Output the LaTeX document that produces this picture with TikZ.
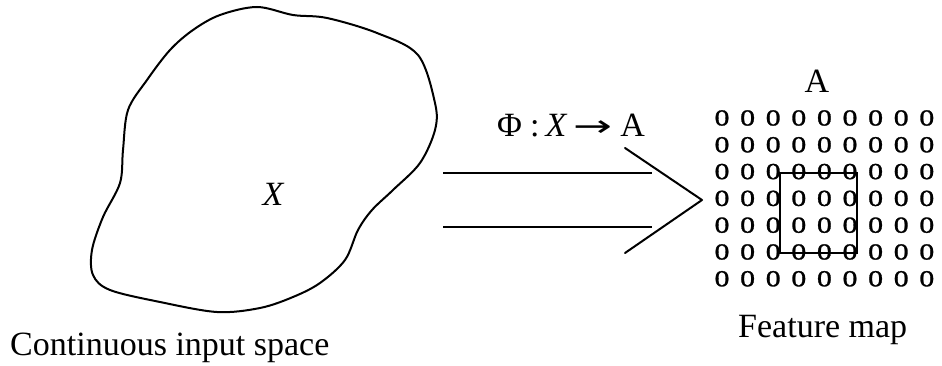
\documentclass[tikz,border=0pt]{standalone}
\usepackage{graphicx}
\usepackage{fontspec}
\setmainfont{Liberation Serif}
\newfontfamily\ofont[FakeStretch=1.3,FakeBold=1.2]{Liberation Serif}
\newfontfamily\arrowfont{DejaVu Sans}
\begin{document}
\begin{tikzpicture}[x=1pt,y=-1pt,
  lbl/.style={inner sep=0pt,font=\fontsize{34}{40}\selectfont},
  neuron/.style={inner sep=0pt,font=\ofont\fontsize{23}{23}\selectfont},
  stroke/.style={line width=2pt,line cap=round,line join=round}]
\useasboundingbox (0,0) rectangle (942,366);
% input space blob
\draw[stroke] plot[smooth cycle,tension=0.55] coordinates{
 (257,7) (293,15) (327,18) (377,33) (418,55) (435,103) (435,130) (420,163)
 (393,190) (372,210) (358,230) (345,260) (320,283) (293,297) (260,308)
 (217,312) (160,302) (110,290) (93,275) (92,250) (103,217) (120,183)
 (123,150) (128,110) (147,80) (170,50) (193,30) (220,15)};
\node[lbl,anchor=base,font=\itshape\fontsize{34}{40}\selectfont] (X) at (273,205) {X};
\node[lbl,anchor=base west] (cis) at (10,355) {Continuous input space};
% mapping arrow
\coordinate (l1a) at (443,173);
\coordinate (l1b) at (652,173);
\coordinate (l2a) at (443,227);
\coordinate (l2b) at (652,227);
\coordinate (ca) at (625,148);
\coordinate (ct) at (702,200);
\coordinate (cb) at (625,253);
\draw[line width=1.4pt] (l1a) -- (l1b);
\draw[line width=2.6pt] (l2a) -- (l2b);
\draw[stroke] (ca) -- (ct) -- (cb);
\node[lbl,anchor=base west] (phi) at (497,137) {Φ\hspace{8pt}:\hspace{6pt}\textit{X}\hspace{6pt}\scalebox{1.55}[1]{\arrowfont\fontsize{30}{34}\selectfont →}\hspace{8pt}A};
% feature map
\node[lbl,anchor=base] (A) at (817,93) {A};
\foreach \i in {0,...,8}{
  \foreach \j in {0,...,6}{
    \node[neuron] (n\i\j) at ({722+25.6*\i},{118+26.8*\j}) {0};
  }
}
\coordinate (r1) at (780,173);
\coordinate (r2) at (857,253);
\draw[line width=2pt] (r1) rectangle (r2);
\node[lbl,anchor=base west] (fm) at (738,337) {Feature map};
\end{tikzpicture}
\end{document}
